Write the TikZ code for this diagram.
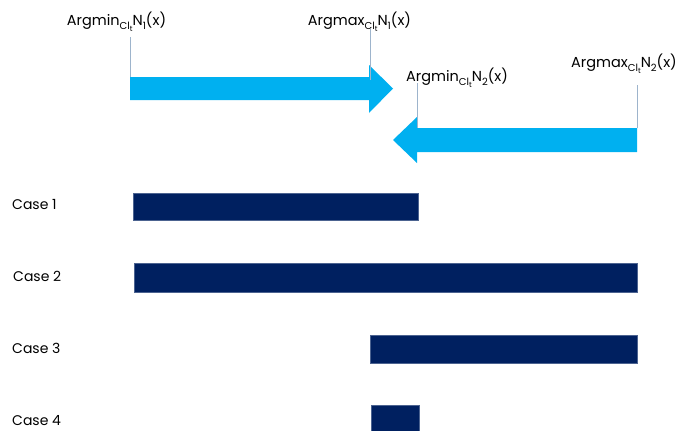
\documentclass[tikz,border=0pt]{standalone}
\usepackage{fontspec}
\setmainfont{Poppins}
\usetikzlibrary{positioning}
\definecolor{skyblue}{HTML}{00B0F0}
\definecolor{navy}{HTML}{002060}
\definecolor{pinline}{HTML}{9DB4CC}
\newcommand{\lowsub}[1]{\raisebox{-0.3em}{\fontsize{10}{10}\selectfont #1}}
\newcommand{\clt}{\lowsub{Cl\raisebox{-0.2em}{\fontsize{7.5}{8}\selectfont t}}}

\begin{document}
\begin{tikzpicture}[x=1pt,y=-1pt,lbl/.style={font=\fontsize{14.5}{16}\selectfont,inner sep=0pt,anchor=base},casel/.style={font=\fontsize{14}{16}\selectfont,inner sep=0pt,anchor=west},bar/.style={fill=navy,draw=navy!70!white,line width=0.5pt,minimum height=27pt,inner sep=0pt,anchor=west},pin/.style={draw=pinline,line width=0.7pt}]
        \useasboundingbox (0,0) rectangle (681,431);
        %
        \coordinate (a1s) at (130,77);
        \coordinate (a1h) at (369,77);
        \coordinate (a2s) at (637,128);
        \coordinate (a2h) at (417,128);
        \fill[skyblue] (a1s) -- (a1h) -- (369,65) -- (393,88.5) -- (369,113) -- (369,100) -- (130,100) -- cycle;
        \fill[skyblue] (a2s) -- (a2h) -- (417,117) -- (393,140) -- (417,163) -- (417,152) -- (637,152) -- cycle;
        %
        \node[lbl](l1) at (116.5,25){Argmin\clt N\lowsub{1}(x)};
        \node[lbl](l2) at (359.5,25){Argmax\clt N\lowsub{1}(x)};
        \node[lbl](l3) at (457,81){Argmin\clt N\lowsub{2}(x)};
        \node[lbl](l4) at (624,67){Argmax\clt N\lowsub{2}(x)};
        %
        \coordinate (p1) at (130,37);
        \coordinate (p2) at (370,29);
        \coordinate (q2) at (370,80);
        \coordinate (p3) at (417,83);
        \coordinate (p4) at (637,85);
        \draw[pin] (p1) -- (a1s);
        \draw[pin] (p2) -- (q2);
        \draw[pin] (p3) -- (a2h);
        \draw[pin] (p4) -- (a2s);
        %
        \node[casel](c1) at (12,205){Case 1};
        \node[casel](c2) at (13,276){Case 2};
        \node[casel](c3) at (12,348){Case 3};
        \node[casel](c4) at (12,421){Case 4};
        %
        \node[bar,minimum width=285pt](b1) at (133,206.5){};
        \node[bar,minimum width=503pt,minimum height=29pt](b2) at (134,277.5){};
        \node[bar,minimum width=267pt,minimum height=28pt](b3) at (370,349){};
        \node[bar,minimum width=48pt,minimum height=28pt](b4) at (371,419){};
\end{tikzpicture}
\end{document}
